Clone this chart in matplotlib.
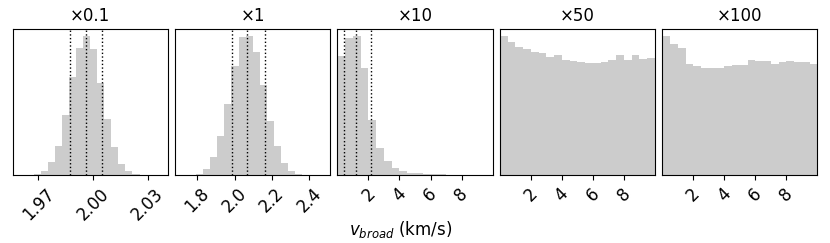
import numpy as np
import matplotlib
matplotlib.use("Agg")
import matplotlib.pyplot as plt

# ----- posterior histograms of v_broad for each scaling factor -----
titles = ["×0.1", "×1", "×10", "×50", "×100"]

# x0.1 : 20 bins over the sample range
range_a = (1.9598, 2.0371)
counts_a = [0, 0, 3, 13, 40, 87, 180, 293, 380, 416, 376, 275, 168, 83, 32, 13, 3, 1, 0, 0]
quant_a = [1.9876, 1.9964, 2.0051]
ticks_a = [1.97, 2.00, 2.03]
labels_a = ["1.97", "2.00", "2.03"]

# x1
range_b = (1.7204, 2.4724)
counts_b = [0, 0, 3, 18, 54, 116, 213, 326, 415, 417, 368, 270, 163, 87, 35, 13, 3, 1, 0, 0]
quant_b = [1.984, 2.068, 2.160]
ticks_b = [1.8, 2.0, 2.2, 2.4]
labels_b = ["1.8", "2.0", "2.2", "2.4"]

# x10, x50, x100 : 20 bins between 0 and 10 km/s
range_wide = (0, 10)
counts_c = [357, 410, 417, 322, 165, 80, 42, 20, 12, 7, 5, 3, 3, 2, 0, 0, 0, 0, 0, 0]
quant_c = [0.42, 1.19, 2.14]
counts_d = [417, 398, 385, 378, 370, 367, 353, 360, 345, 342,
            338, 336, 336, 340, 345, 359, 346, 359, 347, 351]
counts_e = [417, 393, 380, 333, 328, 321, 321, 322, 327, 329,
            330, 345, 343, 342, 334, 340, 341, 340, 339, 334]
ticks_wide = [2, 4, 6, 8]
labels_wide = ["2", "4", "6", "8"]

panels = [
    (range_a, counts_a, quant_a, ticks_a, labels_a, False),
    (range_b, counts_b, quant_b, ticks_b, labels_b, False),
    (range_wide, counts_c, quant_c, ticks_wide, labels_wide, True),
    (range_wide, counts_d, [], ticks_wide, labels_wide, True),
    (range_wide, counts_e, [], ticks_wide, labels_wide, True),
]

fig, axes = plt.subplots(1, 5, figsize=(8.3, 2.43), dpi=100)
fig.subplots_adjust(left=0.0153, right=0.9847, bottom=0.2798, top=0.8807, wspace=0.0477)

for ax, title, (rng, counts, quants, ticks, labels, fixed) in zip(axes, titles, panels):
    edges = np.linspace(rng[0], rng[1], len(counts) + 1)
    ax.hist(edges[:-1], bins=edges, weights=counts, color="gray", alpha=0.4)
    for q in quants:
        ax.axvline(q, color="k", ls=":", lw=1)
    if fixed:
        ax.set_xlim(rng)
    ax.set_xticks(ticks)
    ax.set_xticklabels(labels)
    ax.tick_params(axis="x", labelsize=12, labelrotation=45)
    ax.set_yticks([])
    ax.set_title(title, fontsize=12)

fig.text(401 / 830, 0.0576, r"$v_{broad}$ (km/s)", ha="center", va="center", fontsize=12)

fig.savefig("out.png", dpi=100)
